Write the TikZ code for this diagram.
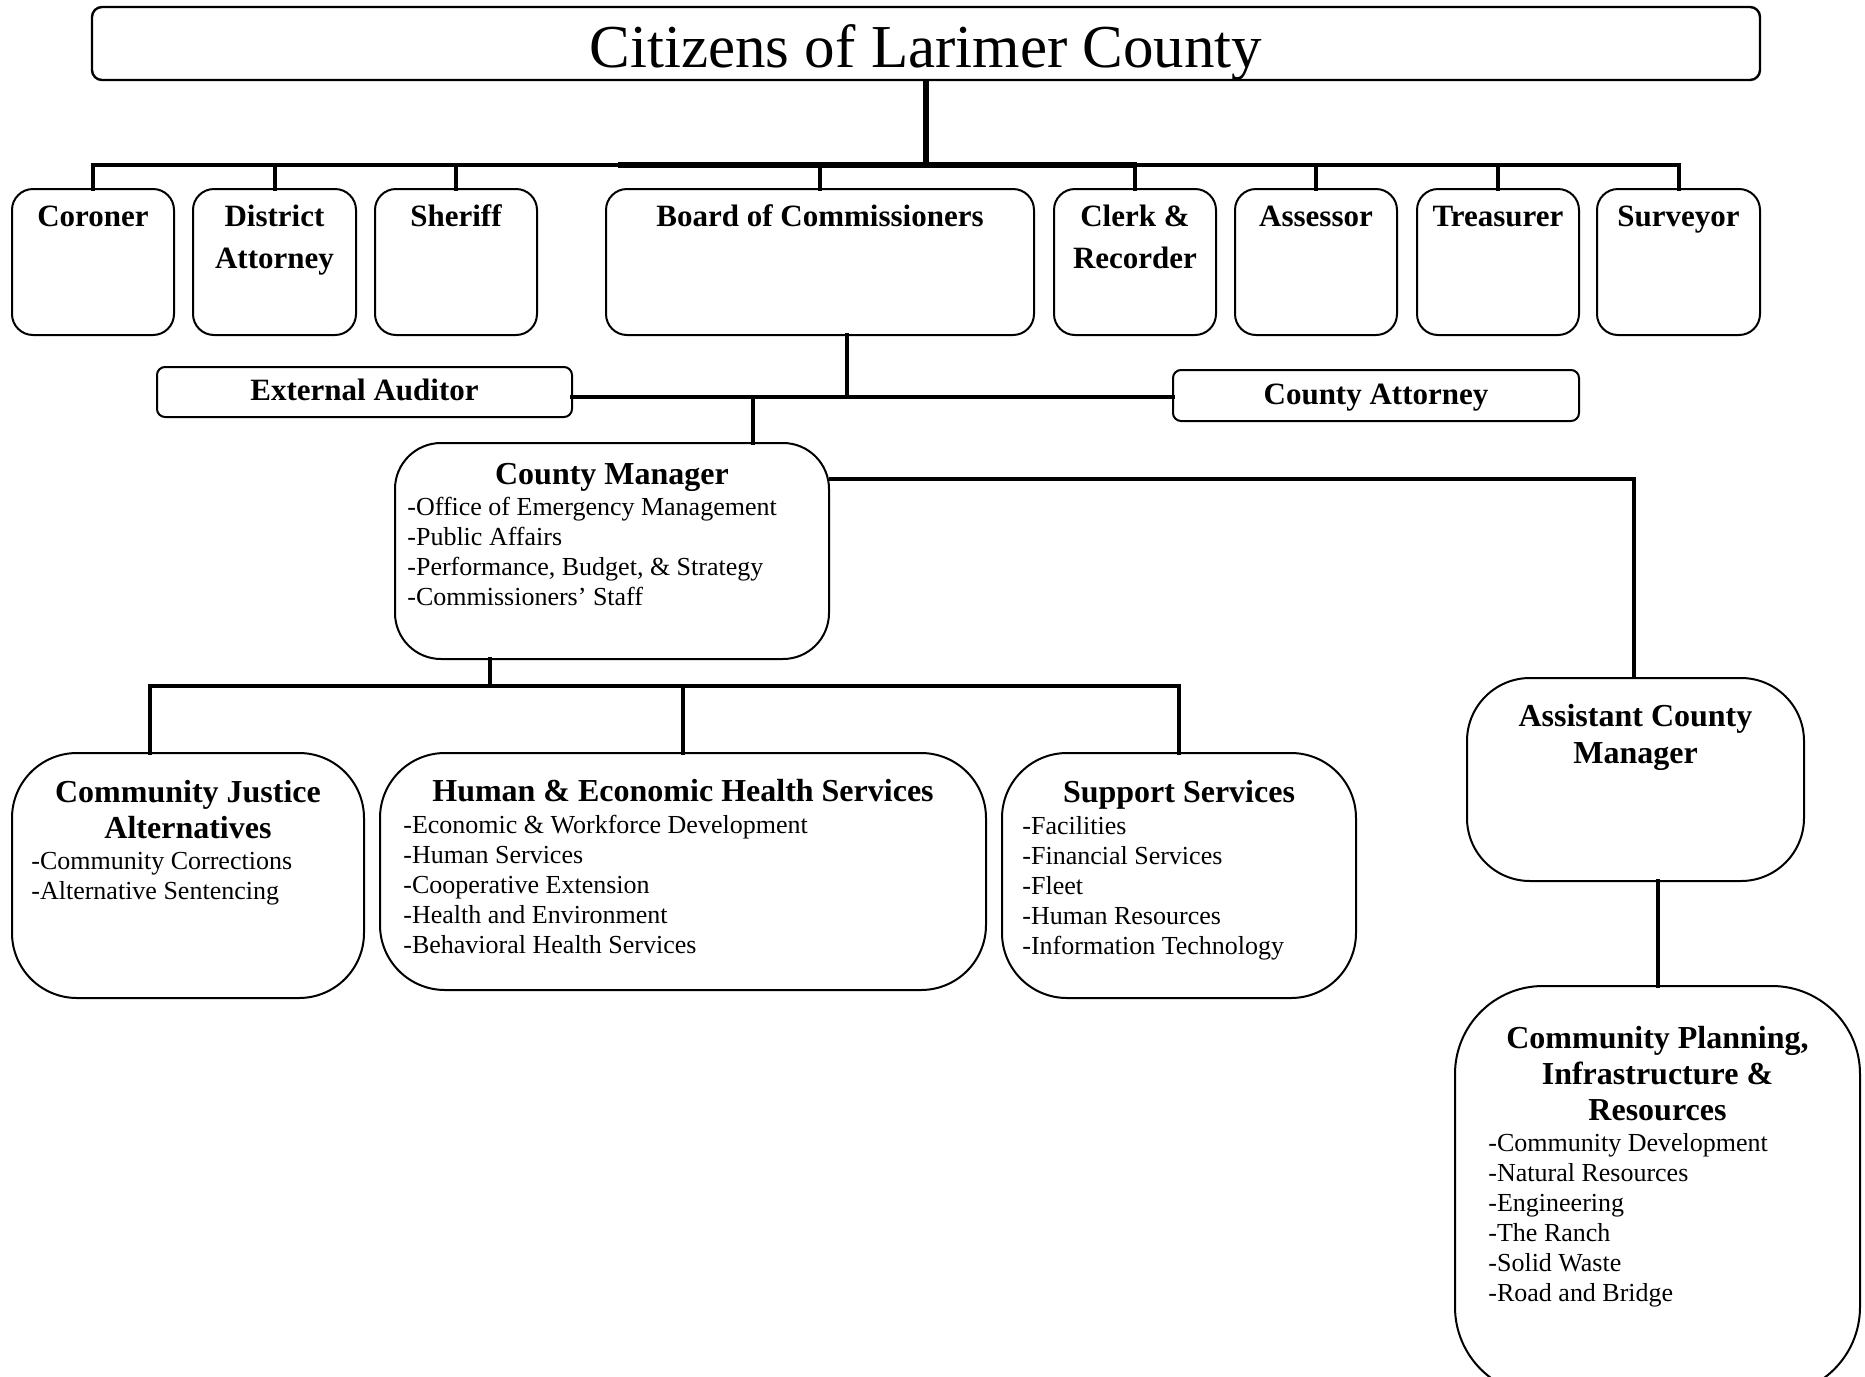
\documentclass[tikz,border=0pt]{standalone}
\usepackage{fontspec}
\setmainfont{Liberation Serif}
\usetikzlibrary{fit}
\newcommand{\myfs}[2]{\fontsize{#1}{#2}\selectfont}
\newcommand{\lbox}[1]{\begin{tabular}[t]{@{}l@{}}#1\end{tabular}}
\newcommand{\cbox}[1]{\begin{tabular}[t]{@{}c@{}}#1\end{tabular}}
\begin{document}
\begin{tikzpicture}[x=0.5pt,y=-0.5pt,
  box/.style={draw, line width=1pt, inner sep=0pt, outer sep=0pt},
  topbox/.style={box, rounded corners=10.5pt},
  thinbox/.style={box, rounded corners=4pt},
  conn/.style={line width=2pt, line cap=rect},
  toptxt/.style={font=\bfseries\myfs{15.5}{21}, anchor=base, inner sep=0pt},
  ttl/.style={font=\bfseries\myfs{16}{18}, anchor=base, inner sep=0pt},
  lst/.style={font=\myfs{13}{15}, anchor=base west, inner sep=0pt}]
\fill[white] (0,0) rectangle (1865,1377);
\useasboundingbox (0,0) rectangle (1865,1377);

% top
\node (citizens) [box, line width=1.2pt, rounded corners=5pt, fit={(92,7) (1760,80)}] {};
\node (citizens-t) at (926,67) [anchor=base, inner sep=0pt, font=\myfs{30.5}{33}] {Citizens of Larimer County};

% top row
\node (coroner) [topbox, fit={(12,189) (174,335)}] {};
\node (da) [topbox, fit={(193,189) (356,335)}] {};
\node (sheriff) [topbox, fit={(375,189) (537,335)}] {};
\node (board) [topbox, fit={(606,189) (1034,335)}] {};
\node (clerk) [topbox, fit={(1054,189) (1216,335)}] {};
\node (assessor) [topbox, fit={(1235,189) (1397,335)}] {};
\node (treasurer) [topbox, fit={(1417,189) (1579,335)}] {};
\node (surveyor) [topbox, fit={(1597,189) (1760,335)}] {};

\node (coroner-t) at (93,226) [toptxt] {Coroner};
\node (da-t) at (274.5,226) [toptxt] {\cbox{District\\Attorney}};
\node (sheriff-t) at (456,226) [toptxt] {Sheriff};
\node (board-t) at (820,226) [toptxt] {Board of Commissioners};
\node (clerk-t) at (1135,226) [toptxt] {\cbox{Clerk \&\\Recorder}};
\node (assessor-t) at (1316,226) [toptxt] {Assessor};
\node (treasurer-t) at (1498,226) [toptxt] {Treasurer};
\node (surveyor-t) at (1678.5,226) [toptxt] {Surveyor};

% auditor / attorney
\node (auditor) [thinbox, fit={(157,367) (572,417)}] {};
\node (auditor-t) at (364.5,400) [toptxt] {External Auditor};
\node (attorney) [thinbox, fit={(1173,370) (1579,421)}] {};
\node (attorney-t) at (1376,404) [toptxt] {County Attorney};

% county manager
\node (cm) [box, rounded corners=23pt, fit={(395,443) (829,659)}] {};
\node (cm-t) at (612,484) [ttl] {County Manager};
\node (cm-l) at (407,515) [lst] {\lbox{-Office of Emergency Management\\-Public Affairs\\-Performance, Budget, \& Strategy\\-Commissioners’ Staff}};

% second tier
\node (cja) [box, rounded corners=32.5pt, fit={(12,753) (364,998)}] {};
\node (cja-t) at (188,802) [ttl] {\cbox{Community Justice\\Alternatives}};
\node (cja-l) at (31,869) [lst] {\lbox{-Community Corrections\\-Alternative Sentencing}};

\node (hehs) [box, rounded corners=32.5pt, fit={(380,753) (986,990)}] {};
\node (hehs-t) at (683,801) [ttl] {Human \& Economic Health Services};
\node (hehs-l) at (403,833) [lst] {\lbox{-Economic \& Workforce Development\\-Human Services\\-Cooperative Extension\\-Health and Environment\\-Behavioral Health Services}};

\node (support) [box, rounded corners=32.5pt, fit={(1002,753) (1356,998)}] {};
\node (support-t) at (1179,802) [ttl] {Support Services};
\node (support-l) at (1022,834) [lst] {\lbox{-Facilities\\-Financial Services\\-Fleet\\-Human Resources\\-Information Technology}};

\node (acm) [box, rounded corners=31.5pt, fit={(1467,678) (1804,881)}] {};
\node (acm-t) at (1635.5,726) [ttl, font=\bfseries\myfs{16}{18.5}] {\cbox{Assistant County\\Manager}};

\node (cpir) [box, rounded corners=44pt, fit={(1455,986) (1860,1395)}] {};
\node (cpir-t) at (1657.5,1048) [ttl] {\cbox{Community Planning,\\Infrastructure \&\\Resources}};
\node (cpir-l) at (1488,1151) [lst] {\lbox{-Community Development\\-Natural Resources\\-Engineering\\-The Ranch\\-Solid Waste\\-Road and Bridge}};

% connectors: top
\coordinate (busL) at (93,165);
\coordinate (busR) at (1679,165);
\draw[line width=3pt] (citizens.south) -- (citizens.south |- busL);
\draw[conn] (busL) -- (busR);
\draw[line width=2.9pt] (618,165) -- (1137,165);
\foreach \n in {coroner,da,sheriff,board,clerk,assessor,treasurer,surveyor}
  \draw[conn] (\n.north) -- (\n.north |- busL);

% board to auditor / attorney / cm
\coordinate (bj) at (847,397);
\coordinate (cmj) at (753,397);
\draw[conn] (bj |- board.south) -- (bj);
\draw[conn] (auditor.east |- bj) -- (attorney.west |- bj);
\draw[conn] (cmj) -- (cmj |- cm.north);

% cm to acm
\coordinate (acmj) at (1634,479);
\draw[conn, line cap=butt] (cm.east |- acmj) -- (acmj) -- (acmj |- acm.north);

% cm to second tier
\coordinate (b2L) at (150,686);
\coordinate (b2R) at (1179,686);
\coordinate (cmd) at (490,686);
\draw[conn] (cmd |- cm.south) -- (cmd);
\draw[conn] (b2L) -- (b2R);
\draw[conn] (b2L) -- (b2L |- cja.north);
\draw[conn] (hehs.north) -- (hehs.north |- b2L);
\draw[conn] (b2R) -- (b2R |- support.north);

% acm to cpir
\draw[conn] (cpir.north) -- (cpir.north |- acm.south);
\end{tikzpicture}
\end{document}
